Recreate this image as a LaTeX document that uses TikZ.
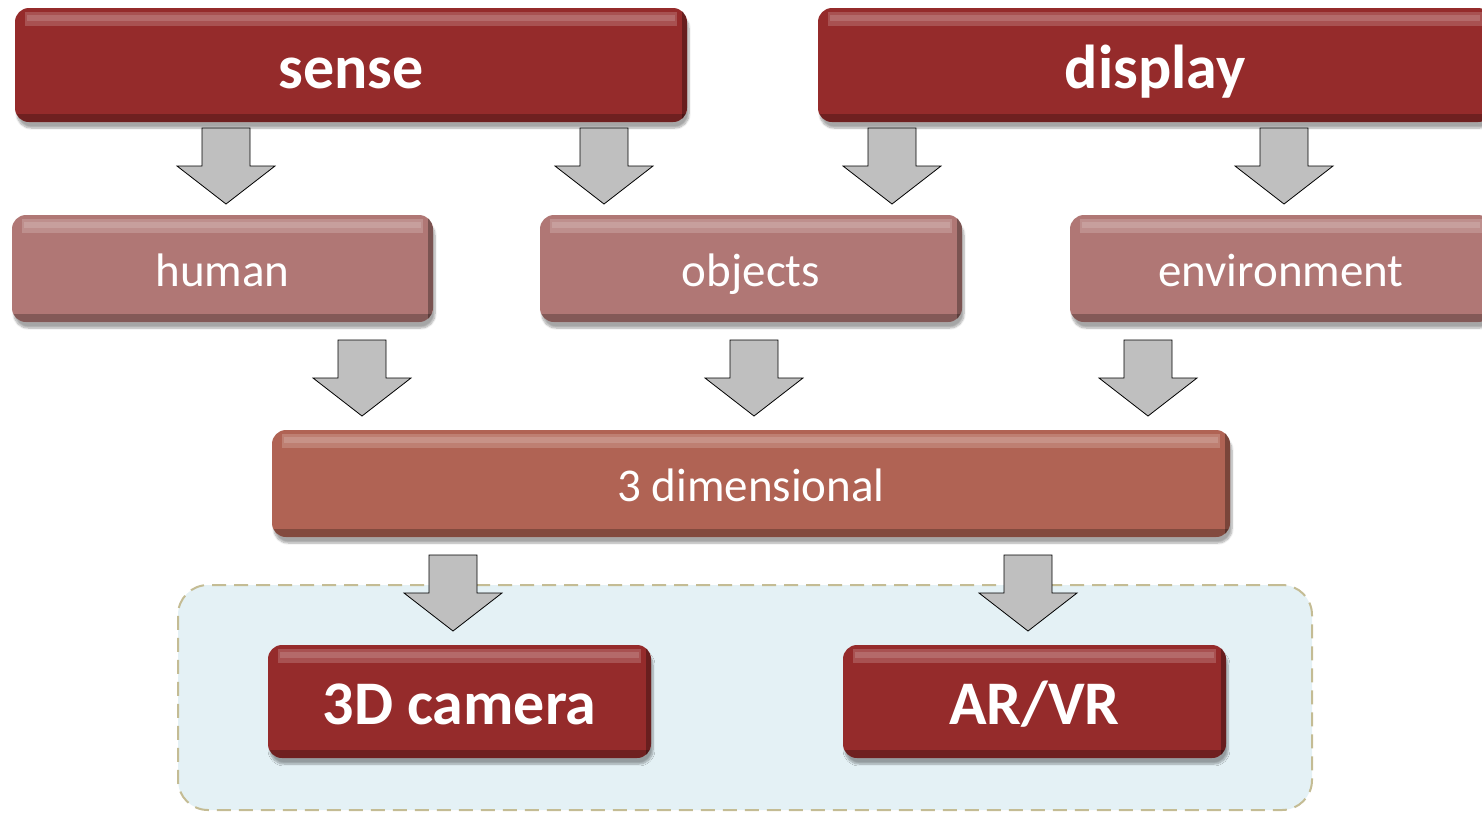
\documentclass[tikz,border=0pt]{standalone}
\usepackage{fontspec}
\setmainfont{Carlito}
\usetikzlibrary{shadows.blur}
\definecolor{boxdark}{HTML}{952B2B}
\definecolor{boxpink}{HTML}{B07775}
\definecolor{boxmid}{HTML}{B06354}
\definecolor{contfill}{HTML}{E4F1F5}
\definecolor{contline}{HTML}{C4BC94}
\definecolor{arrowfill}{HTML}{BFBFBF}
\begin{document}
\begin{tikzpicture}[x=1pt,y=-1pt,
  boxbase/.style={rounded corners=14pt, text=white, inner sep=0pt,
    blur shadow={shadow xshift=2pt, shadow yshift=-6pt, shadow blur steps=8, shadow opacity=35},
    path picture={
      \fill[white, opacity=0.18, sharp corners] ([shift={(10pt,-4pt)}]path picture bounding box.north west) rectangle ([shift={(-10pt,-18pt)}]path picture bounding box.north east);
      \fill[white, opacity=0.15, sharp corners] ([shift={(12pt,-7pt)}]path picture bounding box.north west) rectangle ([shift={(-12pt,-13pt)}]path picture bounding box.north east);
      \fill[black, opacity=0.25, sharp corners] ([shift={(0pt,8pt)}]path picture bounding box.south west) rectangle (path picture bounding box.south east);
      \fill[black, opacity=0.30, sharp corners] ([shift={(-5pt,0pt)}]path picture bounding box.north east) rectangle (path picture bounding box.south east);
    }},
  bigbox/.style={boxbase, fill=boxdark, minimum height=114pt, text height=46pt, text depth=0pt, font=\fontsize{62}{70}\selectfont\bfseries},
  midbox/.style={boxbase, fill=boxpink, minimum height=107pt, minimum width=422pt, text height=35pt, text depth=0pt, font=\fontsize{47}{56}\selectfont},
  dimbox/.style={boxbase, fill=boxmid, minimum height=107pt, text height=35pt, text depth=0pt, font=\fontsize{47}{56}\selectfont},
  container/.style={draw=contline, fill=contfill, line width=2pt, dash pattern=on 14pt off 8pt, rounded corners=30pt, minimum width=1134pt, minimum height=225pt},
  arrowbody/.style={draw=black, line width=0.8pt, fill=arrowfill, line join=miter},
  downarrow/.pic={\draw[arrowbody] (-24,0) -- (24,0) -- (24,38) -- (49,38) -- (0,76) -- (-49,38) -- (-24,38) -- cycle;}
]
\useasboundingbox (0,0) rectangle (1482,812);
\clip (0,0) rectangle (1482,812);

% container
\node[container] (cont) at (745,697.5) {};

% top row
\node[bigbox, minimum width=672pt] (sense) at (351,65) {sense};
\node[bigbox, minimum width=674pt] (display) at (1155,65) {display};

% middle row
\node[midbox, minimum width=421pt] (human) at (222.5,268.5) {human};
\node[midbox] (objects) at (751,268.5) {objects};
\node[midbox] (environment) at (1281,268.5) {environment};

% 3 dimensional
\node[dimbox, minimum width=958pt] (dim) at (751,483.5) {3 dimensional};

% bottom
\node[bigbox, minimum width=383pt, minimum height=113pt] (camera) at (459.5,701.5) {3D camera};
\node[bigbox, minimum width=383pt, minimum height=113pt] (arvr) at (1034.5,701.5) {AR/VR};

% block arrows
\pic (a1) at (226,128) {downarrow};
\pic (a2) at (604,128) {downarrow};
\pic (a3) at (892,128) {downarrow};
\pic (a4) at (1284,128) {downarrow};
\pic (b1) at (362,340) {downarrow};
\pic (b2) at (754,340) {downarrow};
\pic (b3) at (1148,340) {downarrow};
\pic (c1) at (453,555) {downarrow};
\pic (c2) at (1028,555) {downarrow};
\end{tikzpicture}
\end{document}
